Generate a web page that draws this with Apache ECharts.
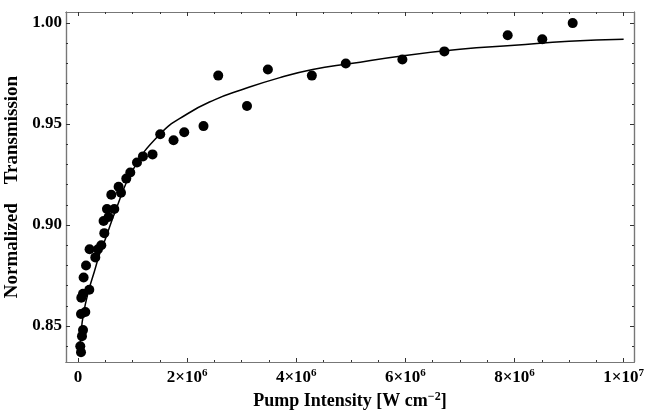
<!DOCTYPE html>
<html>
<head>
<meta charset="utf-8">
<script src="https://cdn.jsdelivr.net/npm/echarts@6/dist/echarts.min.js"></script>
<style>
  html, body { margin: 0; padding: 0; background: #fff; }
  #chart { width: 650px; height: 412px; }
</style>
</head>
<body>
<div id="chart"></div>
<script>
// pump intensity in units of 10^6 W cm^-2
const dotIntensity = [0.055, 0.042, 0.073, 0.092, 0.055, 0.134, 0.060, 0.092, 0.207, 0.103,
  0.147, 0.317, 0.212, 0.366, 0.427, 0.482, 0.469, 0.560, 0.531, 0.665,
  0.610, 0.788, 0.744, 0.885, 0.958, 1.081, 1.190, 1.366, 1.507, 1.751,
  1.947, 2.300, 2.570, 3.097, 3.480, 4.286, 4.908, 5.945, 6.714, 7.875,
  8.509, 9.066]
const dotTransmission = [0.837, 0.840, 0.845, 0.848, 0.856, 0.857, 0.864, 0.866, 0.868, 0.874,
  0.880, 0.884, 0.888, 0.888, 0.890, 0.896, 0.902, 0.904, 0.908, 0.908,
  0.915, 0.916, 0.919, 0.923, 0.926, 0.931, 0.934, 0.935, 0.945, 0.942,
  0.946, 0.949, 0.974, 0.959, 0.977, 0.974, 0.980, 0.982, 0.986, 0.994,
  0.992, 1.000]

// fitted curve
const fitIntensity = [0.03, 0.05, 0.1, 0.2, 0.3, 0.4, 0.5, 0.7, 1.0, 1.5,
  2.0, 2.5, 3.0, 3.7, 4.3, 5.0, 6.0, 7.0, 8.0, 9.0, 10.0]
const fitTransmission = [0.836, 0.845, 0.856, 0.868, 0.877, 0.886, 0.893, 0.908, 0.927, 0.945,
  0.955, 0.962, 0.967, 0.973, 0.977, 0.980, 0.984, 0.987, 0.989, 0.991, 0.992]

const xMajorTicks = [0, 2, 4, 6, 8, 10]
const xMinorTicks = [0, 0.5, 1, 1.5, 2, 2.5, 3, 3.5, 4, 4.5, 5, 5.5, 6, 6.5, 7, 7.5, 8, 8.5, 9, 9.5, 10]
const yMajorTicks = [0.85, 0.90, 0.95, 1.00]
const yMinorTicks = [0.84, 0.85, 0.86, 0.87, 0.88, 0.89, 0.90, 0.91, 0.92, 0.93, 0.94, 0.95, 0.96, 0.97, 0.98, 0.99, 1.00]

const xMin = -0.22, xMax = 10.19
const yMin = 0.8322, yMax = 1.0055
const font = 'Liberation Serif'

const chart = echarts.init(document.getElementById('chart'))

const xAx = (pos, ticks, len, withLabels) => ({
  type: 'value',
  position: pos,
  min: xMin,
  max: xMax,
  axisLine: { show: true, onZero: false, lineStyle: { color: '#777', width: 1.2 } },
  axisTick: { show: true, inside: true, length: len, customValues: ticks, lineStyle: { color: '#333' } },
  axisLabel: withLabels ? {
    customValues: xMajorTicks,
    margin: 6,
    formatter: v => v === 0 ? '{n|0}' : (v === 10 ? '{n|1×10}{s|7}' : '{n|' + v + '×10}{s|6}'),
    rich: {
      n: { fontFamily: font, fontWeight: 'bold', fontSize: 17, color: '#000', lineHeight: 20 },
      s: { fontFamily: font, fontWeight: 'bold', fontSize: 11, color: '#000', verticalAlign: 'top', lineHeight: 12 }
    }
  } : { show: false },
  splitLine: { show: false }
})

const yAx = (pos, ticks, len, withLabels) => ({
  type: 'value',
  position: pos,
  min: yMin,
  max: yMax,
  axisLine: { show: true, onZero: false, lineStyle: { color: '#777', width: 1.2 } },
  axisTick: { show: true, inside: true, length: len, customValues: ticks, lineStyle: { color: '#333' } },
  axisLabel: withLabels ? {
    customValues: yMajorTicks,
    margin: 4,
    formatter: v => v.toFixed(2),
    fontFamily: font, fontWeight: 'bold', fontSize: 17, color: '#000'
  } : { show: false },
  splitLine: { show: false }
})

const xAxes = [xAx('bottom', xMajorTicks, 4, true), xAx('bottom', xMinorTicks, 2, false),
  xAx('top', xMajorTicks, 4, false), xAx('top', xMinorTicks, 2, false)]
xAxes[0].name = '{t|Pump Intensity [W cm}{s|−2}{t|]}'
xAxes[0].nameLocation = 'middle'
xAxes[0].nameGap = 28
xAxes[0].nameTextStyle = {
  rich: {
    t: { fontFamily: font, fontWeight: 'bold', fontSize: 18, color: '#000', lineHeight: 20 },
    s: { fontFamily: font, fontWeight: 'bold', fontSize: 12, color: '#000', verticalAlign: 'top', lineHeight: 12 }
  }
}

const yAxes = [yAx('left', yMajorTicks, 4, true), yAx('left', yMinorTicks, 2, false),
  yAx('right', yMajorTicks, 4, false), yAx('right', yMinorTicks, 2, false)]
yAxes[0].name = 'Normalized    Transmission'
yAxes[0].nameLocation = 'middle'
yAxes[0].nameGap = 40
yAxes[0].nameTextStyle = { fontFamily: font, fontWeight: 'bold', fontSize: 19, color: '#000' }

chart.setOption({
  animation: false,
  backgroundColor: '#fff',
  grid: { left: 66, right: 16, top: 12, bottom: 50, containLabel: false, outerBoundsMode: 'none' },
  xAxis: xAxes,
  yAxis: yAxes,
  series: [
    {
      type: 'line',
      xAxisIndex: 0,
      yAxisIndex: 0,
      data: fitIntensity.map((x, i) => [x, fitTransmission[i]]),
      smooth: true,
      showSymbol: false,
      lineStyle: { color: '#000', width: 1.5 },
      z: 3
    },
    {
      type: 'scatter',
      xAxisIndex: 0,
      yAxisIndex: 0,
      data: dotIntensity.map((x, i) => [x, dotTransmission[i]]),
      symbol: 'circle',
      symbolSize: 10,
      itemStyle: { color: '#000', opacity: 1 },
      z: 4
    }
  ]
})
</script>
</body>
</html>
